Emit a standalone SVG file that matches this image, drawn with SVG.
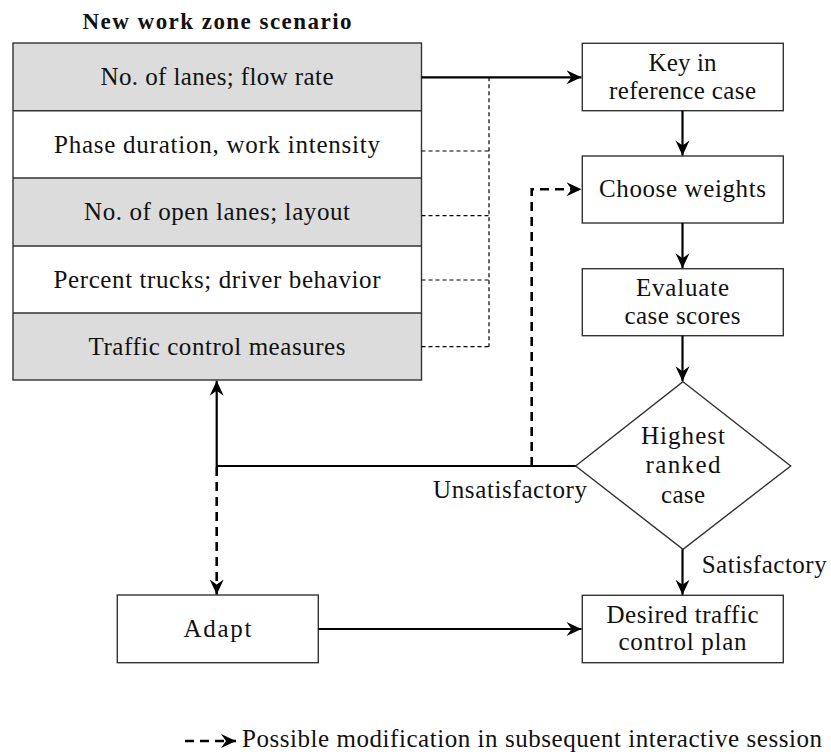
<svg xmlns="http://www.w3.org/2000/svg" width="831" height="754" viewBox="0 0 831 754">
  <style>
    .box { fill: #ffffff; stroke: #333333; stroke-width: 1.4; }
    .shade { fill: #dcdcdc; }
    .lbl { font-family: "Liberation Serif", "Times New Roman", serif; font-size: 25px; fill: #111111; text-anchor: middle; }
    .lft { text-anchor: start; }
    .ttl { font-weight: bold; font-size: 23px; }
    .flow { fill: none; stroke: #000000; stroke-width: 2.2; }
    .mod { fill: none; stroke: #000000; stroke-width: 2.6; stroke-dasharray: 9 6; }
    .link { fill: none; stroke: #000000; stroke-width: 1.2; stroke-dasharray: 4 3; }
  </style>
  <defs>
    <marker id="head" viewBox="-16 -8 18 16" refX="0" refY="0" markerWidth="18" markerHeight="16" markerUnits="userSpaceOnUse" orient="auto">
      <path d="M0,0 L-15,-7 L-10,0 L-15,7 Z" fill="#000000"/>
    </marker>
  </defs>

  <!-- scenario table -->
  <g id="scenario">
    <text class="lbl ttl" x="217" y="29" textLength="269">New work zone scenario</text>
    <rect class="shade" x="13" y="43" width="408.5" height="67.7"/>
    <rect class="shade" x="13" y="178" width="408.5" height="68"/>
    <rect class="shade" x="13" y="313" width="408.5" height="67"/>
    <rect x="13" y="43" width="408.5" height="337" fill="none" stroke="#333333" stroke-width="1.4"/>
    <path d="M13,110.7 H421.5 M13,178 H421.5 M13,246 H421.5 M13,313 H421.5" stroke="#333333" stroke-width="1.4"/>
  </g>
  <g id="row-lanes">
    <text class="lbl" x="217" y="85" textLength="233">No. of lanes; flow rate</text>
  </g>
  <g id="row-phase">
    <text class="lbl" x="217" y="153" textLength="326">Phase duration, work intensity</text>
  </g>
  <g id="row-open-lanes">
    <text class="lbl" x="217" y="220" textLength="266">No. of open lanes; layout</text>
  </g>
  <g id="row-trucks">
    <text class="lbl" x="217" y="287.5" textLength="327">Percent trucks; driver behavior</text>
  </g>
  <g id="row-control">
    <text class="lbl" x="217" y="355" textLength="257">Traffic control measures</text>
  </g>

  <!-- process steps -->
  <g id="key-in">
    <rect class="box" x="582.3" y="43.3" width="201" height="67.4"/>
    <text class="lbl" x="682.5" y="70.7" textLength="68">Key in</text>
    <text class="lbl" x="682.5" y="99.3" textLength="147">reference case</text>
  </g>
  <g id="choose-weights">
    <rect class="box" x="582.3" y="156" width="201" height="67"/>
    <text class="lbl" x="682.5" y="196.7" textLength="167">Choose weights</text>
  </g>
  <g id="evaluate">
    <rect class="box" x="582.3" y="268.7" width="201" height="67"/>
    <text class="lbl" x="682.5" y="295.7" textLength="93">Evaluate</text>
    <text class="lbl" x="682.5" y="324.3" textLength="116">case scores</text>
  </g>
  <g id="highest-ranked">
    <polygon points="683,381.7 790.7,466 683,549.3 575.7,466" fill="#ffffff" stroke="#333333" stroke-width="1.4"/>
    <text class="lbl" x="683" y="444" textLength="84">Highest</text>
    <text class="lbl" x="683" y="473.3" textLength="75">ranked</text>
    <text class="lbl" x="683" y="502.7" textLength="44">case</text>
  </g>
  <g id="desired-plan">
    <rect class="box" x="582.3" y="595.3" width="201" height="67.4"/>
    <text class="lbl" x="682.5" y="622.7" textLength="152">Desired traffic</text>
    <text class="lbl" x="682.5" y="650" textLength="128">control plan</text>
  </g>
  <g id="adapt">
    <rect class="box" x="117.3" y="595" width="201" height="67.7"/>
    <text class="lbl" x="217.5" y="636.7" textLength="68">Adapt</text>
  </g>

  <!-- connectors -->
  <g id="connectors">
    <path class="link" d="M421.5,151 H489 M421.5,215.7 H489 M421.5,280 H489 M421.5,346.7 H489 M489,77.3 V346.7"/>
    <path class="flow" d="M421.5,77.3 H581.5" marker-end="url(#head)"/>
    <path class="flow" d="M682.5,110.7 V155.5" marker-end="url(#head)"/>
    <path class="flow" d="M682.5,223 V268.2" marker-end="url(#head)"/>
    <path class="flow" d="M682.5,335.7 V381.2" marker-end="url(#head)"/>
    <path class="flow" d="M575.7,466 H216.7 V380.8" marker-end="url(#head)"/>
    <path class="flow" d="M682.5,549.3 V594.8" marker-end="url(#head)"/>
    <path class="flow" d="M318.3,629 H581.5" marker-end="url(#head)"/>
    <path class="mod" d="M531.7,466 V189.3 H581.5" marker-end="url(#head)"/>
    <path class="mod" d="M216.7,467 V594.5" marker-end="url(#head)"/>
    <text class="lbl lft" x="433" y="497.7" textLength="154">Unsatisfactory</text>
    <text class="lbl lft" x="701.7" y="573.3" textLength="125">Satisfactory</text>
  </g>

  <!-- legend -->
  <g id="legend">
    <path class="mod" d="M185,741 H236" marker-end="url(#head)"/>
    <text class="lbl lft" x="242" y="747" textLength="580">Possible modification in subsequent interactive session</text>
  </g>
</svg>
